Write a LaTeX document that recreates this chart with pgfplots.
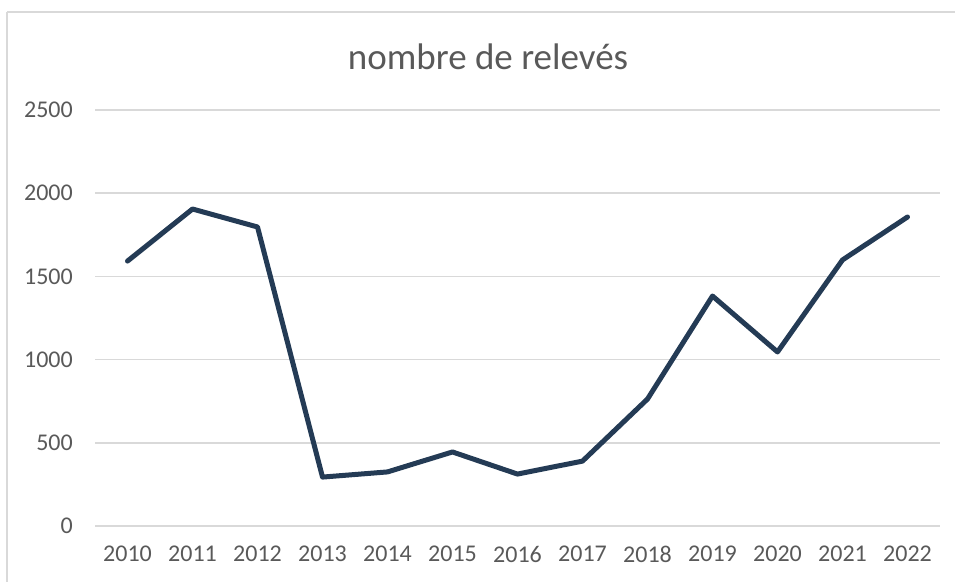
\documentclass[border=0pt]{standalone}
\usepackage{pgfplots}
\pgfplotsset{compat=1.18}
\usepackage{fontspec}
\setmainfont{Carlito}
\definecolor{txtcol}{HTML}{595959}
\definecolor{gridcol}{HTML}{D9D9D9}
\definecolor{lncol}{HTML}{243B55}
\begin{document}
\begin{tikzpicture}[x=1pt,y=1pt]
\useasboundingbox (0,0) rectangle (955,581);
\begin{scope}
\clip (0,0) rectangle (955,581);
\draw[gridcol, line width=1.5pt] (7,569) -- (7,-10);
\draw[gridcol, line width=1.5pt] (7,569) -- (965,569);
\end{scope}
\node[txtcol, font=\fontsize{37}{42}\selectfont] at (488,524) {nombre de relevés};
\begin{axis}[
  at={(95pt,55pt)}, anchor=south west,
  scale only axis, width=845pt, height=416pt,
  xmin=-0.5, xmax=12.5, ymin=0, ymax=2500,
  xtick={0,...,12},
  xticklabels={2010,2011,2012,2013,2014,2015,2016,2017,2018,2019,2020,2021,2022},
  ytick={0,500,1000,1500,2000,2500},
  axis line style={draw=none},
  major tick length=0pt,
  xmajorgrids=false,
  ymajorgrids=true,
  major grid style={gridcol, line width=1.5pt},
  /pgf/number format/assume math mode=true,
  /pgf/number format/1000 sep={},
  tick label style={txtcol, font=\fontsize{24}{28}\selectfont, inner sep=0pt},
  yticklabel style={anchor=east, xshift=-22pt},
  xticklabel style={anchor=north, yshift=-20pt},
  clip=false,
]
\addplot[lncol, line width=5pt, line cap=round, line join=round] coordinates {
(0,1592) (1,1905) (2,1797) (3,294) (4,325) (5,445) (6,312) (7,390) (8,763) (9,1382) (10,1046) (11,1599) (12,1857)
};
\end{axis}
\end{tikzpicture}
\end{document}
